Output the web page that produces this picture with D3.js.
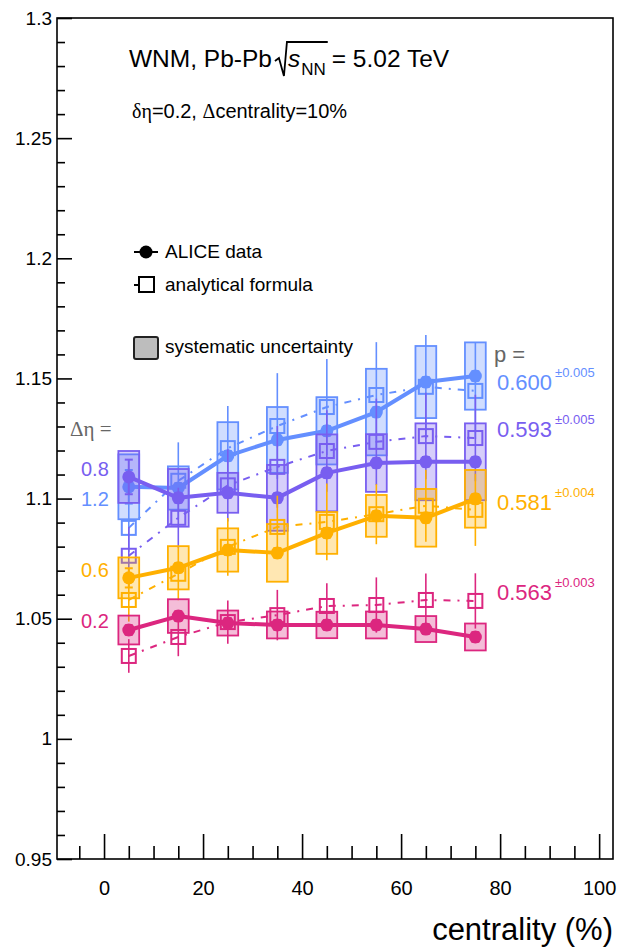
<!DOCTYPE html>
<html>
<head>
<meta charset="utf-8">
<script src="https://cdn.jsdelivr.net/npm/d3@7/dist/d3.min.js"></script>
<style>
  body { margin: 0; background: #fff; }
  svg { display: block; font-family: "Liberation Sans", Arial, sans-serif; }
</style>
</head>
<body>
<div id="chart"></div>
<script>
// data ---------------------------------------------------------------------------------------------
const centrality = [5, 15, 25, 35, 45, 55, 65, 75];

const etaLabels = ['1.2', '0.8', '0.6', '0.2'];
const pValues = ['0.600', '0.593', '0.581', '0.563'];
const pErrors = ['\u00b10.005', '\u00b10.005', '\u00b10.004', '\u00b10.003'];
const colors = ['#648FFF', '#785EF0', '#FFB000', '#DC267F'];

// ALICE data points, systematic and statistical uncertainties
const data12 = [1.1049, 1.1044, 1.1178, 1.1244, 1.1282, 1.1360, 1.1485, 1.1510];
const sys12  = [0.0135, 0.0090, 0.0140, 0.0137, 0.0140, 0.0180, 0.0150, 0.0140];
const stat12 = [0.0070, 0.0020, 0.0020, 0.0020, 0.0020, 0.0020, 0.0020, 0.0020];
const data08 = [1.1090, 1.1003, 1.1024, 1.1003, 1.1107, 1.1148, 1.1153, 1.1153];
const sys08  = [0.0108, 0.0120, 0.0083, 0.0137, 0.0160, 0.0120, 0.0160, 0.0160];
const stat08 = [0.0072, 0.0020, 0.0020, 0.0020, 0.0020, 0.0020, 0.0020, 0.0020];
const data06 = [1.0670, 1.0712, 1.0786, 1.0774, 1.0857, 1.0928, 1.0920, 1.0999];
const sys06  = [0.0085, 0.0090, 0.0090, 0.0120, 0.0087, 0.0087, 0.0120, 0.0120];
const stat06 = [0.0040, 0.0020, 0.0020, 0.0020, 0.0020, 0.0020, 0.0020, 0.0020];
const data02 = [1.0453, 1.0511, 1.0482, 1.0474, 1.0474, 1.0474, 1.0457, 1.0424];
const sys02  = [0.0060, 0.0070, 0.0052, 0.0056, 0.0055, 0.0056, 0.0054, 0.0056];
const stat02 = [0.0020, 0.0020, 0.0020, 0.0020, 0.0020, 0.0020, 0.0020, 0.0020];

// analytical formula and its uncertainty
const formula12 = [1.0878, 1.1074, 1.1210, 1.1302, 1.1381, 1.1431, 1.1465, 1.1448];
const formErr12 = [0.0100, 0.0160, 0.0175, 0.0220, 0.0200, 0.0220, 0.0216, 0.0200];
const formula08 = [1.0762, 1.0920, 1.1055, 1.1132, 1.1198, 1.1236, 1.1260, 1.1252];
const formErr08 = [0.0120, 0.0125, 0.0150, 0.0170, 0.0170, 0.0180, 0.0180, 0.0180];
const formula06 = [1.0578, 1.0687, 1.0799, 1.0882, 1.0903, 1.0935, 1.0970, 1.0953];
const formErr06 = [0.0090, 0.0110, 0.0120, 0.0130, 0.0160, 0.0125, 0.0150, 0.0150];
const formula02 = [1.0345, 1.0424, 1.0486, 1.0515, 1.0553, 1.0557, 1.0578, 1.0574];
const formErr02 = [0.0070, 0.0080, 0.0090, 0.0105, 0.0095, 0.0115, 0.0110, 0.0115];

const xMajorTicks = [0, 20, 40, 60, 80, 100];
const yMajorTicks = [0.95, 1, 1.05, 1.1, 1.15, 1.2, 1.25, 1.3];

// build series table from the arrays above
const series = [
    { eta: etaLabels[0], p: pValues[0], pErr: pErrors[0], color: colors[0], data: data12, sys: sys12, stat: stat12, formula: formula12, formErr: formErr12 },
    { eta: etaLabels[1], p: pValues[1], pErr: pErrors[1], color: colors[1], data: data08, sys: sys08, stat: stat08, formula: formula08, formErr: formErr08 },
    { eta: etaLabels[2], p: pValues[2], pErr: pErrors[2], color: colors[2], data: data06, sys: sys06, stat: stat06, formula: formula06, formErr: formErr06 },
    { eta: etaLabels[3], p: pValues[3], pErr: pErrors[3], color: colors[3], data: data02, sys: sys02, stat: stat02, formula: formula02, formErr: formErr02 }
];
series.forEach(s => {
    s.points = centrality.map((c, i) => ({
        c, v: s.data[i], sys: s.sys[i], stat: s.stat[i], f: s.formula[i], fe: s.formErr[i]
    }));
});

// layout -------------------------------------------------------------------------------------------
const width = 617;
const height = 950;
const frame = { left: 57, right: 613, top: 18, bottom: 859 };

const svg = d3.select('#chart')
    .append('svg')
    .attr('width', width)
    .attr('height', height);

const x = d3.scaleLinear().domain([-9.5, 102.8]).range([frame.left, frame.right]);
const y = d3.scaleLinear().domain([0.95, 1.3]).range([frame.bottom, frame.top]);

// axes ---------------------------------------------------------------------------------------------
const xMinor = d3.range(-5, 101, 5).filter(v => v % 20 !== 0);
const yMinor = d3.range(95, 131, 1).map(v => v / 100).filter(v => Math.round(v * 100) % 5 !== 0);

const xAxisMajor = svg.append('g')
    .attr('transform', `translate(0,${frame.bottom})`)
    .call(d3.axisBottom(x).tickValues(xMajorTicks).tickSize(-25).tickPadding(22).tickFormat(d3.format('d')));
svg.append('g')
    .attr('transform', `translate(0,${frame.bottom})`)
    .call(d3.axisBottom(x).tickValues(xMinor).tickSize(-13).tickFormat(''));

const yAxisMajor = svg.append('g')
    .attr('transform', `translate(${frame.left},0)`)
    .call(d3.axisLeft(y).tickValues(yMajorTicks).tickSize(-15).tickPadding(5).tickFormat(d => d3.format('')(d)));
svg.append('g')
    .attr('transform', `translate(${frame.left},0)`)
    .call(d3.axisLeft(y).tickValues(yMinor).tickSize(-8).tickFormat(''));

svg.selectAll('.domain').remove();
svg.selectAll('.tick line').attr('stroke', '#000').attr('stroke-width', 1.6);
xAxisMajor.selectAll('text')
    .attr('font-size', 20).attr('font-family', '"Liberation Sans", Arial, sans-serif').attr('fill', '#000');
yAxisMajor.selectAll('text')
    .attr('font-size', 19).attr('font-family', '"Liberation Sans", Arial, sans-serif').attr('fill', '#000');

// frame
svg.append('rect')
    .attr('x', frame.left).attr('y', frame.top)
    .attr('width', frame.right - frame.left).attr('height', frame.bottom - frame.top)
    .attr('fill', 'none').attr('stroke', '#000').attr('stroke-width', 1.6);

// x axis title
svg.append('text')
    .attr('x', frame.right).attr('y', 940)
    .attr('text-anchor', 'end')
    .attr('font-size', 31)
    .text('centrality (%)');

// series -------------------------------------------------------------------------------------------
const boxHalf = 2.1;     // half width of systematic boxes, in centrality units
const squareSize = 14;
const capHalf = 4;

const dataLine = d3.line().x(d => x(d.c)).y(d => y(d.v));
const formLine = d3.line().x(d => x(d.c)).y(d => y(d.f));

series.forEach(s => {
    const g = svg.append('g');

    // systematic uncertainty boxes
    g.selectAll('rect.sys')
        .data(s.points)
        .join('rect')
        .attr('class', 'sys')
        .attr('x', d => x(d.c - boxHalf))
        .attr('width', d => x(d.c + boxHalf) - x(d.c - boxHalf))
        .attr('y', d => y(d.v + d.sys))
        .attr('height', d => y(d.v - d.sys) - y(d.v + d.sys))
        .attr('fill', s.color)
        .attr('fill-opacity', 0.3)
        .attr('stroke', s.color)
        .attr('stroke-width', 1.8);

    // analytical formula error bars
    g.selectAll('line.ferr')
        .data(s.points)
        .join('line')
        .attr('class', 'ferr')
        .attr('x1', d => x(d.c)).attr('x2', d => x(d.c))
        .attr('y1', d => y(d.f - d.fe)).attr('y2', d => y(d.f + d.fe))
        .attr('stroke', s.color)
        .attr('stroke-width', 1.6);

    // analytical formula dash-dot line
    g.append('path')
        .datum(s.points)
        .attr('d', formLine)
        .attr('fill', 'none')
        .attr('stroke', s.color)
        .attr('stroke-width', 2)
        .attr('stroke-dasharray', '7,7,2,7');

    // analytical formula open squares
    g.selectAll('rect.form')
        .data(s.points)
        .join('rect')
        .attr('class', 'form')
        .attr('x', d => x(d.c) - squareSize / 2)
        .attr('y', d => y(d.f) - squareSize / 2)
        .attr('width', squareSize).attr('height', squareSize)
        .attr('fill', 'none')
        .attr('stroke', s.color)
        .attr('stroke-width', 2);

    // statistical error bars with caps
    const stat = g.selectAll('g.stat')
        .data(s.points)
        .join('g')
        .attr('class', 'stat')
        .attr('stroke', s.color)
        .attr('stroke-width', 2);
    stat.append('line')
        .attr('x1', d => x(d.c)).attr('x2', d => x(d.c))
        .attr('y1', d => y(d.v - d.stat)).attr('y2', d => y(d.v + d.stat));
    stat.append('line')
        .attr('x1', d => x(d.c) - capHalf).attr('x2', d => x(d.c) + capHalf)
        .attr('y1', d => y(d.v + d.stat)).attr('y2', d => y(d.v + d.stat));
    stat.append('line')
        .attr('x1', d => x(d.c) - capHalf).attr('x2', d => x(d.c) + capHalf)
        .attr('y1', d => y(d.v - d.stat)).attr('y2', d => y(d.v - d.stat));

    // data line and markers
    g.append('path')
        .datum(s.points)
        .attr('d', dataLine)
        .attr('fill', 'none')
        .attr('stroke', s.color)
        .attr('stroke-width', 4)
        .attr('stroke-linejoin', 'round');

    g.selectAll('circle')
        .data(s.points)
        .join('circle')
        .attr('cx', d => x(d.c))
        .attr('cy', d => y(d.v))
        .attr('r', 6.5)
        .attr('fill', s.color);
});

// titles -------------------------------------------------------------------------------------------
const title = svg.append('g').attr('font-size', 24.5);
const t1 = title.append('text').attr('x', 129).attr('y', 67).text('WNM, Pb-Pb');
const w1 = t1.node().getComputedTextLength();
const r0 = 129 + w1 + 3;
const sText = title.append('text').attr('x', r0 + 13).attr('y', 67)
    .attr('font-style', 'italic').text('s');
const ws = sText.node().getComputedTextLength();
const nn = title.append('text').attr('x', r0 + 13 + ws + 1).attr('y', 75)
    .attr('font-size', 17).text('NN');
const wn = nn.node().getComputedTextLength();
const rEnd = r0 + 13 + ws + 1 + wn + 2;
title.append('path')
    .attr('d', `M${r0},61 L${r0 + 4},58 L${r0 + 9},76 L${r0 + 12},42 L${rEnd},42`)
    .attr('fill', 'none').attr('stroke', '#000').attr('stroke-width', 1.8);
title.append('text').attr('x', rEnd + 4).attr('y', 67).text('= 5.02 TeV');

const sub = svg.append('text').attr('x', 132).attr('y', 118).attr('font-size', 20);
sub.append('tspan').attr('font-family', '"Liberation Serif", serif').text('\u03b4\u03b7');
sub.append('tspan').text('=0.2, ');
sub.append('tspan').attr('font-family', '"Liberation Serif", serif').text('\u0394');
sub.append('tspan').text('centrality=10%');

// legend -------------------------------------------------------------------------------------------
const legend = svg.append('g');
legend.append('line').attr('x1', 134).attr('x2', 158).attr('y1', 252).attr('y2', 252)
    .attr('stroke', '#000').attr('stroke-width', 2);
legend.append('circle').attr('cx', 146).attr('cy', 252).attr('r', 6.5).attr('fill', '#000');
legend.append('text').attr('x', 165).attr('y', 258).attr('font-size', 19).text('ALICE data');

legend.append('line').attr('x1', 134).attr('x2', 139).attr('y1', 285).attr('y2', 285)
    .attr('stroke', '#000').attr('stroke-width', 2);
legend.append('rect').attr('x', 139).attr('y', 277).attr('width', 15).attr('height', 15)
    .attr('fill', 'none').attr('stroke', '#000').attr('stroke-width', 2);
legend.append('text').attr('x', 165).attr('y', 291).attr('font-size', 19).text('analytical formula');

legend.append('rect').attr('x', 134).attr('y', 337).attr('width', 24).attr('height', 22).attr('rx', 2)
    .attr('fill', '#bdbdbd').attr('stroke', '#222').attr('stroke-width', 2);
legend.append('text').attr('x', 165).attr('y', 353).attr('font-size', 19).text('systematic uncertainty');

// series labels ------------------------------------------------------------------------------------
const etaBaselines = [506, 476, 577, 628];
const pBaselines = [390, 437, 510, 600];

const etaHead = svg.append('text').attr('x', 70).attr('y', 436).attr('font-size', 21)
    .attr('fill', '#666');
etaHead.append('tspan').attr('font-family', '"Liberation Serif", serif').text('\u0394\u03b7 =');

svg.append('text').attr('x', 494).attr('y', 362).attr('font-size', 22).attr('fill', '#666').text('p =');

series.forEach((s, i) => {
    svg.append('text')
        .attr('x', 81).attr('y', etaBaselines[i])
        .attr('font-size', 20).attr('fill', s.color)
        .text(s.eta);
    svg.append('text')
        .attr('x', 497).attr('y', pBaselines[i])
        .attr('font-size', 22).attr('fill', s.color)
        .text(s.p);
    svg.append('text')
        .attr('x', 555).attr('y', pBaselines[i] - 13)
        .attr('font-size', 13).attr('fill', s.color)
        .text(s.pErr);
});
</script>
</body>
</html>
